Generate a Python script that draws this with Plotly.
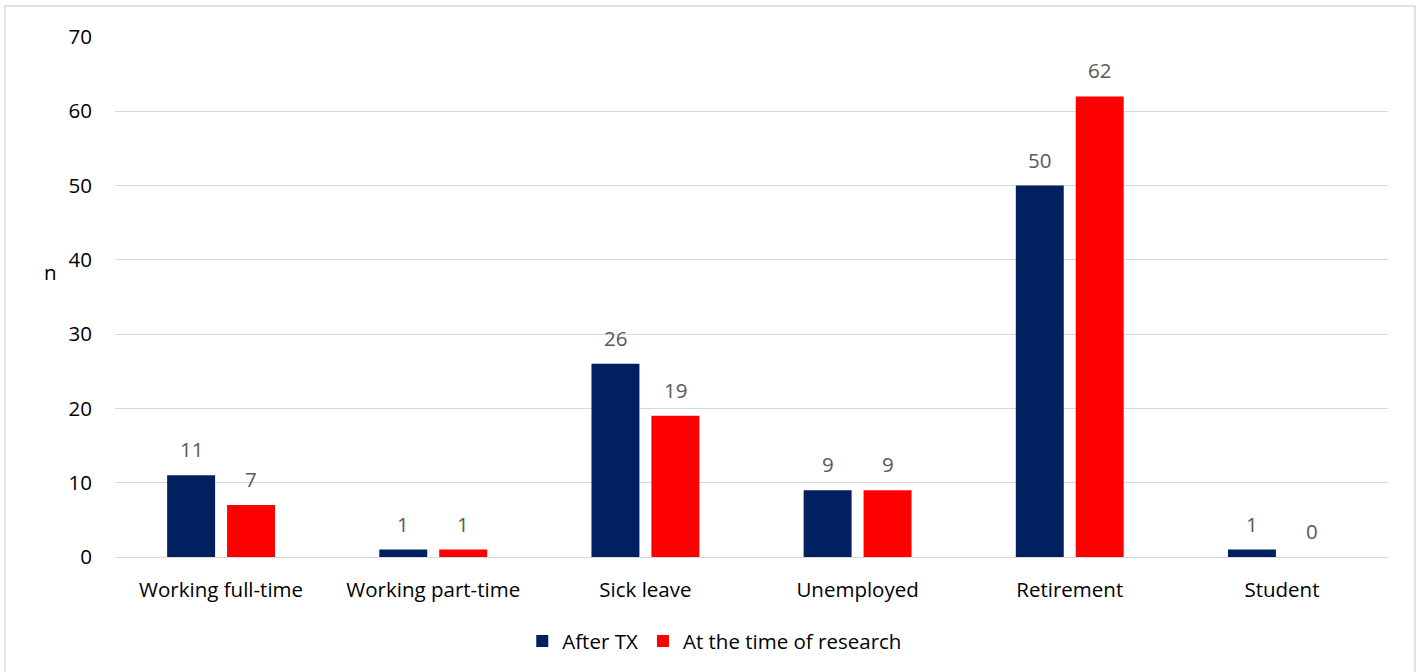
import plotly.graph_objects as go

categories = ["Working full-time", "Working part-time", "Sick leave",
              "Unemployed", "Retirement", "Student"]
after_tx = [11, 1, 26, 9, 50, 1]
at_research = [7, 1, 19, 9, 62, 0]
y_ticks = [0, 10, 20, 30, 40, 50, 60, 70]

FONT = "Open Sans, Noto Sans, sans-serif"
SIZE = 20.5
NAVY = "#002060"
RED = "#FF0000"

fig = go.Figure()
fig.add_trace(go.Bar(name="After TX", x=categories, y=after_tx,
                     marker=dict(color=NAVY, line=dict(width=0))))
fig.add_trace(go.Bar(name="At the time of research", x=categories, y=at_research,
                     marker=dict(color=RED, line=dict(width=0))))

# value labels above each bar (bars sit 30 px either side of the category centre)
labels = []
for values, shift in ((after_tx, -30), (at_research, 30)):
    for cat, v in zip(categories, values):
        labels.append(dict(x=cat, y=v, xref="x", yref="y", text=str(v),
                           showarrow=False, xshift=shift, yshift=10,
                           yanchor="bottom",
                           font=dict(size=SIZE, color="#595959", family=FONT)))

labels.append(dict(text="n", xref="paper", yref="paper", x=-0.057, y=0.548,
                   showarrow=False, font=dict(size=SIZE, color="#000000")))

fig.update_layout(
    width=1421, height=672,
    margin=dict(l=115, r=33, t=37, b=115, autoexpand=False),
    paper_bgcolor="white", plot_bgcolor="white",
    font=dict(family=FONT, size=SIZE, color="#000000"),
    barmode="group", bargap=0.435, bargroupgap=0.2,
    showlegend=True,
    legend=dict(orientation="h", xref="container", yref="container",
                x=0.503, xanchor="center", y=0.046, yanchor="middle",
                font=dict(size=SIZE, color="#000000"),
                itemwidth=30, traceorder="normal"),
    xaxis=dict(showgrid=False, showline=True, linecolor="#d9d9d9",
               linewidth=1, ticks="", ticklabelstandoff=14, automargin=False,
               tickfont=dict(size=SIZE, color="#000000")),
    yaxis=dict(range=[0, 70], tickvals=y_ticks, showgrid=True,
               gridcolor="#d9d9d9", gridwidth=1, zeroline=False,
               showline=False, ticks="", ticklabelstandoff=22, automargin=False,
               tickfont=dict(size=SIZE, color="#000000")),
    annotations=labels,
    shapes=[dict(type="rect", xref="paper", yref="paper",
                 x0=-0.0864, x1=1.0212, y0=-0.25, y1=1.0596,
                 line=dict(color="#d9d9d9", width=1.5), layer="below")],
)

fig.write_html("out.html")
